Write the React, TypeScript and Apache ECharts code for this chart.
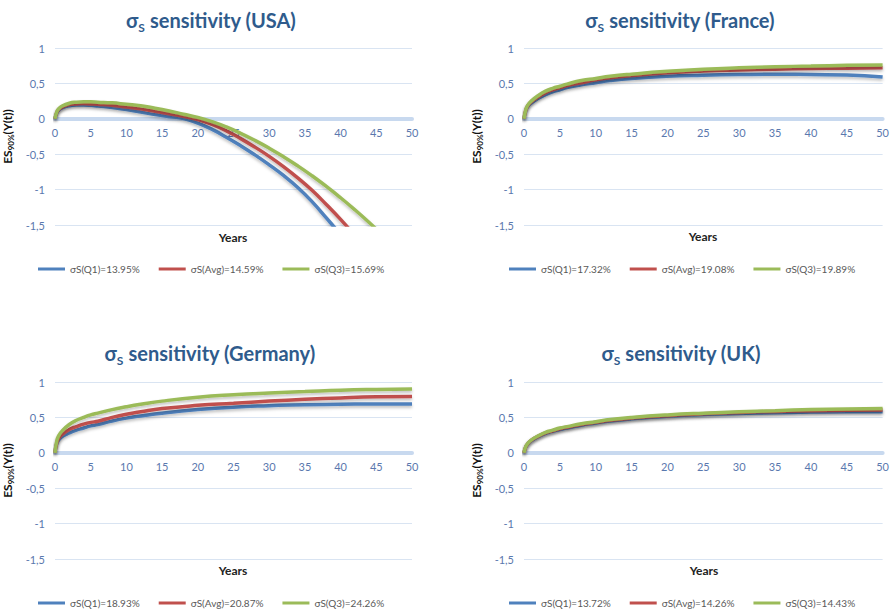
import React, { useEffect, useRef } from "react";
import * as echarts from "echarts";

// ---------- data ----------
const usaYears = [0, 0.25, 0.5, 1, 2, 3, 4, 5, 6, 8, 10, 12, 14, 16, 18, 20, 22, 24, 26, 28, 30, 32, 34, 36, 38, 40, 42, 44, 46];
const usaQ1 = [0, 0.08, 0.12, 0.155, 0.185, 0.195, 0.195, 0.19, 0.18, 0.16, 0.13, 0.095, 0.06, 0.03, 0.005, -0.06, -0.15, -0.26, -0.38, -0.51, -0.65, -0.8, -0.97, -1.17, -1.4, -1.64, -1.9, -2.15, -2.4];
const usaAvg = [0, 0.09, 0.13, 0.165, 0.2, 0.21, 0.215, 0.21, 0.205, 0.19, 0.165, 0.14, 0.105, 0.07, 0.035, -0.01, -0.08, -0.17, -0.28, -0.4, -0.53, -0.675, -0.835, -1.01, -1.21, -1.42, -1.65, -1.9, -2.15];
const usaQ3 = [0, 0.1, 0.14, 0.18, 0.22, 0.235, 0.24, 0.24, 0.235, 0.225, 0.205, 0.185, 0.15, 0.11, 0.065, 0.02, -0.04, -0.115, -0.205, -0.305, -0.415, -0.535, -0.665, -0.805, -0.955, -1.115, -1.285, -1.465, -1.655];

const years = [0, 0.25, 0.5, 1, 2, 3, 4, 5, 6, 8, 10, 12, 15, 20, 25, 30, 35, 40, 45, 50];
const franceQ1 = [0, 0.11, 0.17, 0.22, 0.29, 0.34, 0.38, 0.41, 0.44, 0.48, 0.51, 0.54, 0.57, 0.6, 0.615, 0.625, 0.63, 0.625, 0.62, 0.59];
const franceAvg = [0, 0.12, 0.18, 0.24, 0.31, 0.37, 0.41, 0.44, 0.47, 0.51, 0.55, 0.58, 0.61, 0.65, 0.675, 0.69, 0.7, 0.71, 0.715, 0.72];
const franceQ3 = [0, 0.13, 0.19, 0.25, 0.33, 0.39, 0.43, 0.46, 0.49, 0.54, 0.57, 0.6, 0.63, 0.67, 0.7, 0.72, 0.735, 0.745, 0.755, 0.76];

const germanyQ1 = [0, 0.13, 0.18, 0.23, 0.28, 0.32, 0.35, 0.38, 0.4, 0.45, 0.49, 0.52, 0.56, 0.61, 0.645, 0.665, 0.68, 0.685, 0.69, 0.69];
const germanyAvg = [0, 0.14, 0.2, 0.26, 0.33, 0.37, 0.405, 0.43, 0.445, 0.5, 0.545, 0.58, 0.625, 0.67, 0.7, 0.73, 0.755, 0.775, 0.79, 0.795];
const germanyQ3 = [0, 0.17, 0.24, 0.31, 0.4, 0.46, 0.5, 0.535, 0.56, 0.61, 0.65, 0.685, 0.73, 0.785, 0.82, 0.845, 0.865, 0.885, 0.895, 0.9];

const ukQ1 = [0, 0.08, 0.12, 0.17, 0.23, 0.275, 0.305, 0.33, 0.35, 0.39, 0.42, 0.45, 0.48, 0.515, 0.54, 0.555, 0.565, 0.575, 0.58, 0.58];
const ukAvg = [0, 0.085, 0.125, 0.175, 0.235, 0.28, 0.31, 0.34, 0.36, 0.4, 0.43, 0.46, 0.49, 0.525, 0.55, 0.57, 0.585, 0.595, 0.6, 0.605];
const ukQ3 = [0, 0.09, 0.13, 0.18, 0.24, 0.29, 0.32, 0.35, 0.37, 0.41, 0.44, 0.47, 0.5, 0.535, 0.56, 0.58, 0.595, 0.61, 0.62, 0.625];

const countries = ["USA", "France", "Germany", "UK"];
const legendUSA = ["σS(Q1)=13.95%", "σS(Avg)=14.59%", "σS(Q3)=15.69%"];
const legendFrance = ["σS(Q1)=17.32%", "σS(Avg)=19.08%", "σS(Q3)=19.89%"];
const legendGermany = ["σS(Q1)=18.93%", "σS(Avg)=20.87%", "σS(Q3)=24.26%"];
const legendUK = ["σS(Q1)=13.72%", "σS(Avg)=14.26%", "σS(Q3)=14.43%"];
const xTicks = { min: 0, max: 50, interval: 5 };
const yTicks = { min: -1.5, max: 1, interval: 0.5 };

// ---------- styling ----------
const FONT = "Lato, 'Open Sans', sans-serif";
const COLORS = ["#4F81BD", "#C0504D", "#9BBB59"];
const LABEL_COLOR = "#5A78AE";
const TITLE_COLOR = "#2F5B8C";

const panels = [
  { name: countries[0], xs: usaYears, series: [usaQ1, usaAvg, usaQ3], legend: legendUSA, grid: { left: 55, top: 48, width: 357, height: 177 }, titleX: 211, titleY: 20, nameX: 233, nameY: 237, legX: 38, legY: 264 },
  { name: countries[1], xs: years, series: [franceQ1, franceAvg, franceQ3], legend: legendFrance, grid: { left: 524, top: 48, width: 360, height: 177 }, titleX: 680, titleY: 20, nameX: 703, nameY: 236, legX: 509, legY: 264 },
  { name: countries[2], xs: years, series: [germanyQ1, germanyAvg, germanyQ3], legend: legendGermany, grid: { left: 55, top: 382, width: 357, height: 177 }, titleX: 210, titleY: 353, nameX: 233, nameY: 570, legX: 38, legY: 598 },
  { name: countries[3], xs: years, series: [ukQ1, ukAvg, ukQ3], legend: legendUK, grid: { left: 524, top: 382, width: 359, height: 177 }, titleX: 681, titleY: 353, nameX: 704, nameY: 570, legX: 509, legY: 598 },
];

export default function App() {
  const ref = useRef<HTMLDivElement>(null);

  useEffect(() => {
    if (!ref.current) return;
    const chart = echarts.init(ref.current, undefined, { renderer: "svg" });

    const grid: any[] = [];
    const xAxis: any[] = [];
    const yAxis: any[] = [];
    const series: any[] = [];
    const legend: any[] = [];
    const graphic: any[] = [];

    panels.forEach((p, i) => {
      grid.push({ ...p.grid, containLabel: false });
      // place the x axis where y = 0 crosses, labels included
      const zeroOffset = -p.grid.height * (0 - yTicks.min) / (yTicks.max - yTicks.min);
      xAxis.push({
        type: "value",
        gridIndex: i,
        ...xTicks,
        position: "bottom",
        offset: zeroOffset,
        axisLine: { onZero: false, lineStyle: { color: "#C8D9EF", width: 4 } },
        axisTick: { show: false },
        splitLine: { show: false },
        axisLabel: { color: LABEL_COLOR, fontSize: 11, fontFamily: FONT, margin: 8 },
        z: 1,
      });
      yAxis.push({
        type: "value",
        gridIndex: i,
        ...yTicks,
        axisLine: { show: false },
        axisTick: { show: false },
        splitLine: { lineStyle: { color: "#D9E4F2", width: 1 } },
        axisLabel: {
          color: LABEL_COLOR,
          fontSize: 11,
          fontFamily: FONT,
          margin: 10,
          formatter: (v: number) => String(v).replace(".", ","),
        },
        name: "{b|ES}{s|90%}{b|(Y(t))}",
        nameLocation: "middle",
        nameRotate: 90,
        nameGap: 40,
        nameTextStyle: {
          rich: {
            b: { fontSize: 12, fontWeight: "bold", color: "#111", fontFamily: FONT, lineHeight: 16 },
            s: { fontSize: 8, fontWeight: "bold", color: "#111", fontFamily: FONT, lineHeight: 10, verticalAlign: "bottom" },
          },
        },
      });
      p.series.forEach((vals, k) => {
        series.push({
          type: "line",
          name: p.legend[k],
          xAxisIndex: i,
          yAxisIndex: i,
          data: p.xs.map((x, j) => [x, vals[j]]),
          showSymbol: false,
          symbol: "none",
          smooth: true,
          clip: true,
          lineStyle: {
            color: COLORS[k],
            width: 3.5,
            shadowColor: "rgba(0,0,0,0.25)",
            shadowBlur: 3,
            shadowOffsetY: 2,
          },
          itemStyle: { color: COLORS[k] },
          z: 3 + k,
        });
      });
      legend.push({
        left: p.legX,
        top: p.legY,
        padding: 0,
        itemGap: 19,
        itemWidth: 27,
        itemHeight: 3,
        icon: "rect",
        selectedMode: false,
        textStyle: { fontSize: 10, color: "#595959", fontFamily: FONT },
        data: p.legend,
      });
      graphic.push({
        type: "text",
        x: p.titleX,
        y: p.titleY,
        style: {
          text: `{a|σ}{s|S}{a| sensitivity (${p.name})}`,
          align: "center",
          verticalAlign: "middle",
          rich: {
            a: { fontSize: 20, fontWeight: "bold", fill: TITLE_COLOR, fontFamily: FONT, lineHeight: 26 },
            s: { fontSize: 12, fontWeight: "bold", fill: TITLE_COLOR, fontFamily: FONT, lineHeight: 14, verticalAlign: "bottom" },
          },
        },
      });
      graphic.push({
        type: "text",
        x: p.nameX,
        y: p.nameY,
        style: {
          text: "Years",
          align: "center",
          verticalAlign: "middle",
          font: `bold 12px ${FONT}`,
          fill: "#222",
        },
      });
    });

    chart.setOption({
      animation: false,
      backgroundColor: "#ffffff",
      grid,
      xAxis,
      yAxis,
      series,
      legend,
      graphic,
    });

    return () => chart.dispose();
  }, []);

  return (
    <div
      ref={ref}
      style={{ position: "fixed", left: 0, top: 0, width: 892, height: 614 }}
    />
  );
}
